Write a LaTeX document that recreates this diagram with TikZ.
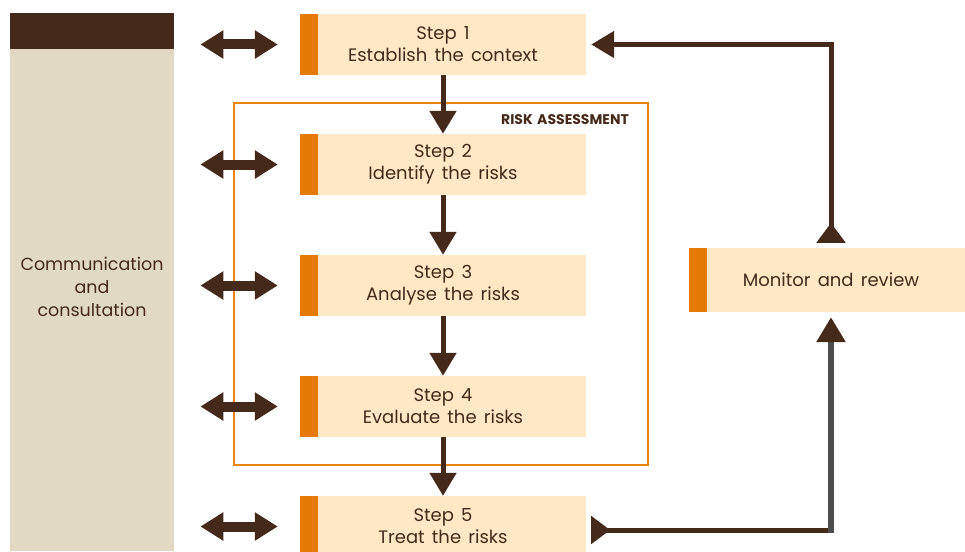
\documentclass[tikz,border=0pt]{standalone}
\usepackage{fontspec}
\setmainfont{Poppins}[WordSpace=1.5]
\usetikzlibrary{arrows.meta,decorations.markings,calc}
\definecolor{dbrown}{HTML}{452A1B}
\definecolor{panelbeige}{HTML}{E1D9C4}
\definecolor{boxfill}{HTML}{FEE8C5}
\definecolor{barorange}{HTML}{E67A07}
\definecolor{riskline}{HTML}{E8860F}
\definecolor{greyline}{HTML}{4D4D4D}
\begin{document}
\begin{tikzpicture}[x=1pt,y=-1pt,
  every node/.style={text=dbrown, font=\fontsize{18}{22}\selectfont},
  stepbox/.style={fill=boxfill, minimum width=286pt, minimum height=61pt, inner sep=0pt, align=center},
  flow/.style={draw=dbrown, line width=5pt, -{Triangle[length=23pt,width=26pt]}},
  dbl/.style={draw=dbrown, line width=10pt, {Triangle[length=23pt,width=27pt]}-{Triangle[length=23pt,width=27pt]}},
  bar/.style={fill=barorange},
  ]
\useasboundingbox (0,0) rectangle (965,551);

% left panel
\node[fill=panelbeige, minimum width=164pt, minimum height=538pt, inner sep=0pt, anchor=north west] (panel) at (10,13) {};
\fill[dbrown] (panel.north west) rectangle ([yshift=-36pt]panel.north east);
\node[align=center, font=\fontsize{17.5}{23}\selectfont] (comm) at (92,287) {Communication\\and\\consultation};

% risk assessment frame
\node[draw=riskline, line width=2pt, minimum width=414pt, minimum height=362pt, inner sep=0pt] (risk) at (441,284) {};
\node[anchor=east, inner sep=0pt, font=\bfseries\fontsize{14}{16}\selectfont] (risktitle) at (629,120) {RISK ASSESSMENT};

% steps
\node[stepbox] (s1) at (443,44.5) {Step 1\\Establish the context};
\node[stepbox] (s2) at (443,164.5) {Step 2\\Identify the risks};
\node[stepbox] (s3) at (443,285.5) {Step 3\\Analyse the risks};
\node[stepbox] (s4) at (443,406.5) {Step 4\\Evaluate the risks};
\node[stepbox] (s5) at (443,526.5) {Step 5\\Treat the risks};
\node[stepbox, minimum width=276pt, minimum height=64pt] (mon) at (827,280) {\hspace*{8pt}Monitor and review};
\foreach \n in {s1,s2,s3,s4,s5,mon}
  \fill[bar] (\n.north west) rectangle ([xshift=18pt]\n.south west);

% flows
\draw[flow] (s1) -- (s2);
\draw[flow] (s2) -- (s3);
\draw[flow] (s3) -- (s4);
\draw[flow] (s4) -- (s5);

% double arrows
\coordinate (pe) at ([xshift=26pt]panel.east);
\foreach \n in {s1,s2,s3,s4,s5}
  \draw[dbl] (pe |- \n) -- ([xshift=-22pt]\n.west);

% feedback loop
\coordinate (mtop) at ([xshift=4pt]mon.north);
\coordinate (mbot) at ([xshift=4pt]mon.south);
\coordinate (tr) at (mtop |- s1.east);
\draw[draw=dbrown, line width=5pt, -{Triangle[length=23pt,width=26pt]}, shorten >=5pt, shorten <=5pt,
  postaction={decorate}, decoration={markings, mark=at position 25pt with {\arrow{Triangle[length=20pt,width=28pt]}}}]
  (mtop) -- (tr) -- (s1.east);

\coordinate (bstart) at ([shift={(5pt,-3.5pt)}]s5.east);
\coordinate (bc) at (mbot |- bstart);
\draw[draw=dbrown, line width=5pt,
  postaction={decorate}, decoration={markings, mark=at position 19pt with {\arrow{Triangle[length=19pt,width=27pt]}}}]
  (bstart) -- (bc);
\draw[draw=greyline, line width=6pt, -{Triangle[length=25pt,width=28pt,color=dbrown]}, shorten >=5pt]
  ([yshift=-3pt]bc) -- (mbot);
\end{tikzpicture}
\end{document}
